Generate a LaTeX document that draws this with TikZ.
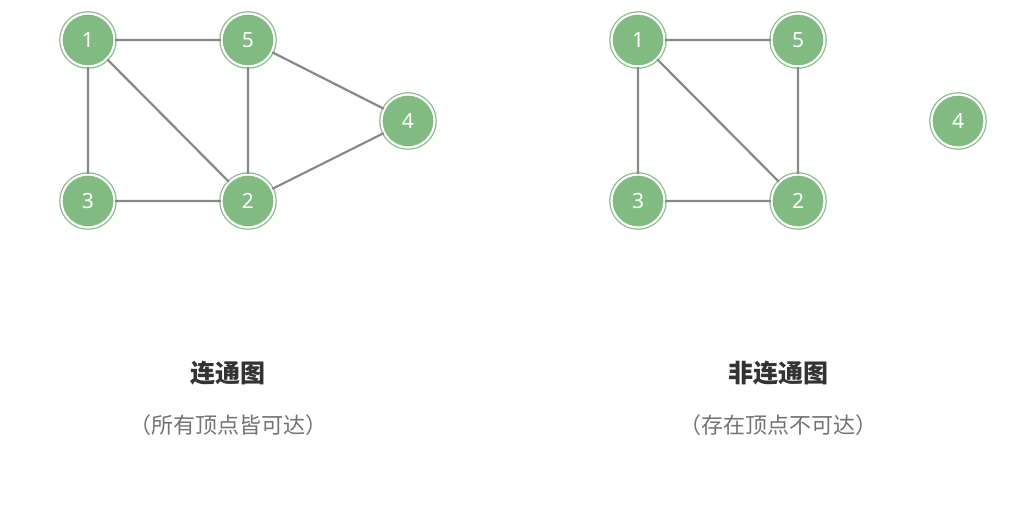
\documentclass[tikz,border=0pt]{standalone}
\usepackage{fontspec}
\setmainfont{Noto Sans}
\newfontfamily\cjk{Noto Sans CJK SC}
\definecolor{ng}{HTML}{82BB82}
\definecolor{eg}{HTML}{888888}
\tikzset{vtx/.style={circle,minimum size=53pt,inner sep=0pt,fill=ng,draw=ng,double=white,double distance=2.2pt,line width=1.2pt,text=white,font=\fontsize{21}{21}\selectfont},
edge/.style={eg,line width=2.2pt},
ttl/.style={font=\cjk\bfseries\fontsize{25}{25}\selectfont,text=black!80},
sub/.style={font=\cjk\fontsize{22}{22}\selectfont,text=black!55}}
\begin{document}
\begin{tikzpicture}[x=1pt,y=-1pt]
\useasboundingbox (0,0) rectangle (1028,512);
\node[vtx] (a1) at (88,40) {1};
\node[vtx] (a5) at (248,40) {5};
\node[vtx] (a4) at (408,121) {4};
\node[vtx] (a3) at (88,201) {3};
\node[vtx] (a2) at (248,201) {2};
\draw[edge] (a1)--(a5) (a1)--(a3) (a1)--(a2) (a5)--(a2) (a5)--(a4) (a3)--(a2) (a2)--(a4);
\node[vtx] (b1) at (638,40) {1};
\node[vtx] (b5) at (798,40) {5};
\node[vtx] (b4) at (958,121) {4};
\node[vtx] (b3) at (638,201) {3};
\node[vtx] (b2) at (798,201) {2};
\draw[edge] (b1)--(b5) (b1)--(b3) (b1)--(b2) (b5)--(b2) (b3)--(b2);
\node[ttl] (t1) at (228,373) {连通图};
\node[sub] (s1) at (228,425) {（所有顶点皆可达）};
\node[ttl] (t2) at (778,373) {非连通图};
\node[sub] (s2) at (778,425) {（存在顶点不可达）};
\end{tikzpicture}
\end{document}
